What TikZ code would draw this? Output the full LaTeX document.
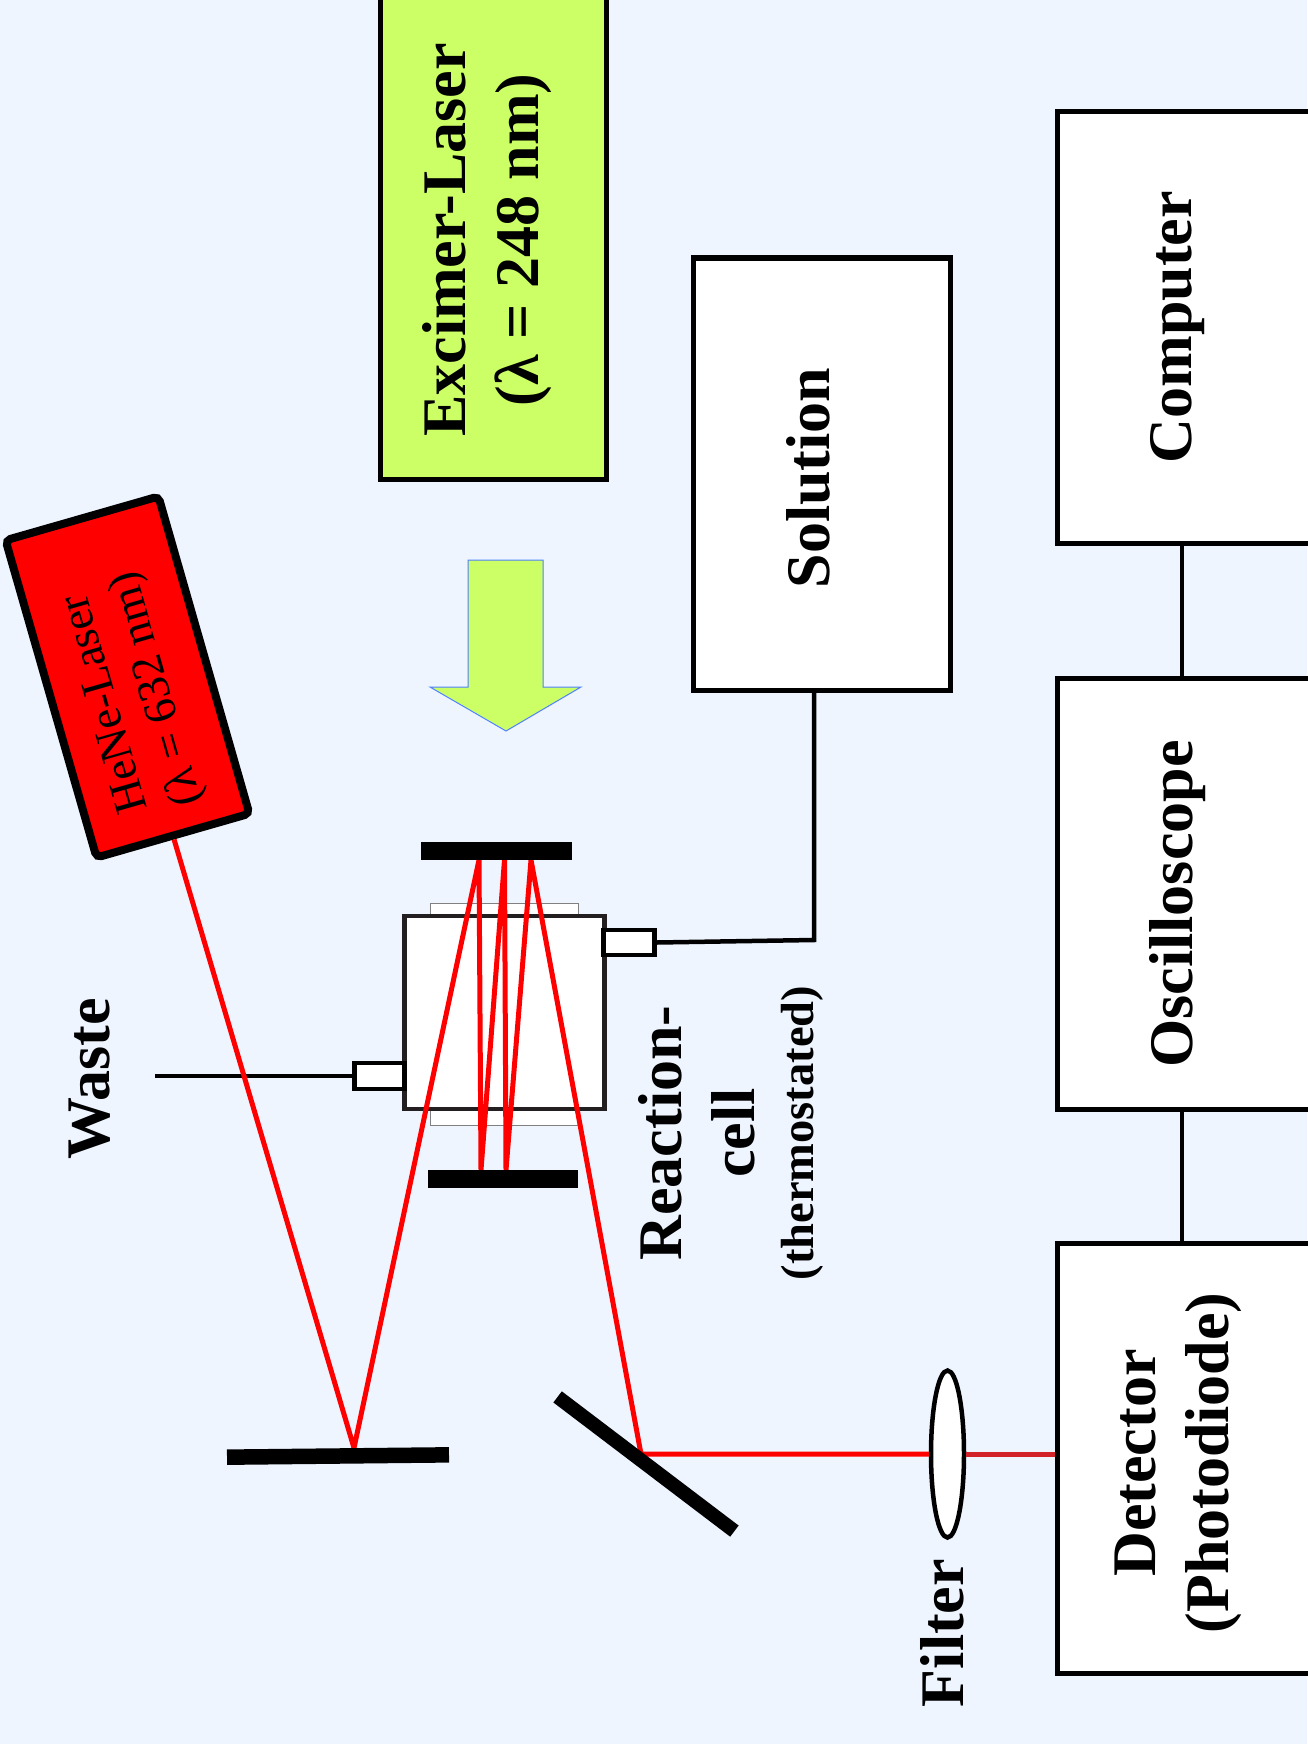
\documentclass[tikz,border=0pt]{standalone}
\usepackage{fontspec}
\setmainfont{Liberation Serif}
\usepackage{xcolor}
\usetikzlibrary{shapes.geometric}
\definecolor{pagebg}{HTML}{EEF5FF}
\definecolor{lime}{HTML}{CCFF66}
\definecolor{arrowblue}{HTML}{4F81FF}
\definecolor{celldark}{HTML}{231F20}
\definecolor{darkray}{HTML}{D2232A}
\tikzstyle{block} = [rectangle, draw, line width=5, fill=white, inner sep=0]
\tikzstyle{title} = [rotate=90, align=center, font=\fontsize{62}{73}\selectfont\bfseries]
\tikzstyle{mirror} = [rectangle, fill=black, inner sep=0]
\tikzstyle{port} = [rectangle, draw, line width=4.5, fill=white, inner sep=0]
\tikzstyle{line} = [draw, line width=4.5]
\tikzstyle{ray} = [draw, line width=5, red, line join=round]

\begin{document}
\begin{tikzpicture}[x=1pt, y=-1pt]
      \useasboundingbox (0,0) rectangle (1307,1744);
      \fill [pagebg] (0,0) rectangle (1307,1744);
      % Lasers
      \node [block, fill=lime, minimum width=226, minimum height=490] (excimer) at (493,234) {};
      \node [title] (excimer-text) at (487,240) {Excimer-Laser\\(λ = 248 nm)};
      \node [block, fill=red, line width=8, rounded corners=5, rotate=106, minimum width=330, minimum height=159] (hene) at (127.5,677) {};
      \node [rotate=106, align=center, font=\fontsize{46}{54}\selectfont] (hene-text) at (133,696) {HeNe-Laser\\(λ = 632 nm)};
      \draw [arrowblue, fill=lime, line width=1] (468,560) coordinate (arrow) -- (543,560) -- (543,687) -- (581,687) -- (506,731) -- (430,687) -- (468,687) -- cycle;
      % Boxes
      \node [block, minimum width=257, minimum height=432] (solution) at (821.5,474) {};
      \node [block, minimum width=263, minimum height=431] (computer) at (1188.5,327.5) {};
      \node [block, minimum width=263, minimum height=431] (oscilloscope) at (1188.5,893.5) {};
      \node [block, minimum width=263, minimum height=430] (detector) at (1188.5,1458) {};
      \node [title] (solution-text) at (808,478) {Solution};
      \node [title] (computer-text) at (1178,327) {Computer};
      \node [title] (oscilloscope-text) at (1178,904) {Oscilloscope};
      \node [title] (detector-text) at (1178,1463) {Detector\\(Photodiode)};
      % Cell
      \node [rectangle, draw=gray, fill=white, line width=1, minimum width=148, minimum height=222] (window) at (504,1014) {};
      \node [rectangle, draw=celldark, fill=white, line width=4.5, minimum width=200, minimum height=193] (cell) at (504.5,1012.5) {};
      \node [port, minimum width=51, minimum height=25] (inlet) at (629,942.5) {};
      \node [port, minimum width=50, minimum height=26] (outlet) at (379.5,1076) {};
      \coordinate (bend) at (814,940);
      \coordinate (waste-end) at (154.6,1076);
      \coordinate (bus) at (1182,0);
      \node [title] (waste) at (90,1079) {Waste};
      \node [title] (filter) at (942,1633) {Filter};
      \node [title] (cell-text) at (731,1133) {Reaction-\\cell\\[-14pt]{\fontsize{46.5}{50}\selectfont (thermostated)}};
      % Optics
      \node [ellipse, draw, line width=4.5, fill=white, inner sep=0, minimum width=33, minimum height=167] (lens) at (947.5,1454) {};
      \coordinate (hit-a) at (354,1448);
      \coordinate (hit-b) at (479,860);
      \coordinate (hit-c) at (481,1170);
      \coordinate (hit-d) at (504.5,860);
      \coordinate (hit-e) at (506,1170);
      \coordinate (hit-f) at (531,860);
      \coordinate (hit-g) at (641,1454);
      % Draw edges
      \path [line] (inlet.east) -- (bend) -- (bend |- solution.south);
      \path [line] (outlet.west) -- (waste-end);
      \path [line] (bus |- computer.south) -- (bus |- oscilloscope.north);
      \path [line] (bus |- oscilloscope.south) -- (bus |- detector.north);
      \path [ray] (hene.west) -- (hit-a) -- (hit-b) -- (hit-c) -- (hit-d) -- (hit-e) -- (hit-f) -- (hit-g) -- (lens.west);
      \path [ray, darkray] (lens.east) -- (lens.east -| detector.west);
      % Mirrors
      \node [mirror, minimum width=151, minimum height=18] (mirror-top) at (496,851) {};
      \node [mirror, minimum width=150, minimum height=18] (mirror-bottom) at (503,1179) {};
      \node [mirror, rotate=0.6, minimum width=222, minimum height=15.5] (mirror-flat) at (338,1456) {};
      \node [mirror, rotate=-37.2, minimum width=222, minimum height=14] (mirror-diag) at (646,1464) {};
\end{tikzpicture}
\end{document}
